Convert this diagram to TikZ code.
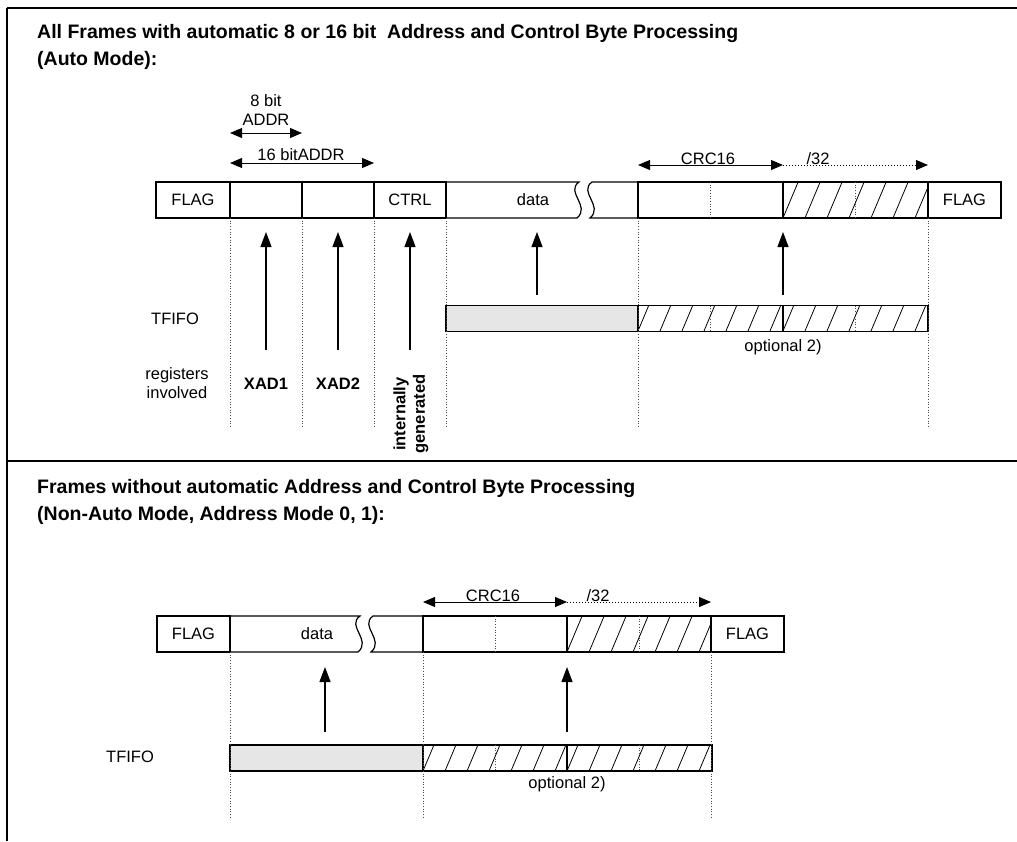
\documentclass[tikz,border=0pt]{standalone}
\usepackage{fontspec}
\setmainfont{Liberation Sans}
\usetikzlibrary{arrows.meta,positioning,calc}
\definecolor{fifogray}{RGB}{230,230,230}
\newcommand{\hatchbox}[4]{% corners (#1,#2) and (#3,#4)
  \begin{scope}
    \clip (#1,#2) rectangle (#3,#4);
    \foreach \hx in {0,22,...,220}
      \draw[line width=0.8pt] (#1-44+\hx,#4) -- ({#1-44+\hx+0.42*(#4-#2)},#2);
  \end{scope}}

\begin{document}
\begin{tikzpicture}[
  x=1pt, y=-1pt,
  font=\fontsize{16.5}{19.5}\selectfont,
  ttl/.style={anchor=west, inner sep=0pt, font=\fontsize{19.5}{23}\selectfont\bfseries},
  reg/.style={font=\fontsize{16.5}{19.5}\selectfont\bfseries},
  cell/.style={draw, line width=1.2pt, minimum height=36pt, inner sep=0pt, outer sep=0pt},
  fifo/.style={draw, line width=1.3pt, minimum height=26pt, inner sep=0pt, outer sep=0pt},
  edge/.style={line width=1.2pt},
  rule/.style={line width=1.8pt},
  guide/.style={dotted, line width=0.7pt, black!70},
  up/.style={-{Triangle[length=15pt,width=11pt]}, line width=1.2pt},
  dim/.style={{Triangle[length=12pt,width=10pt]}-{Triangle[length=12pt,width=10pt]}, line width=1pt},
  dotdim/.style={-{Triangle[length=12pt,width=10pt]}, dotted, line width=1pt}
]
\useasboundingbox (0,0) rectangle (1017,841);

% outer frame
\draw[rule] (7,8) -- (1017,8);
\draw[rule] (7,8) -- (7,841);
\draw[rule] (7,461) -- (1017,461);

% ---- auto mode ----
\node[ttl] (t1) at (37,33) {All Frames with automatic 8 or 16 bit~ Address and Control Byte Processing};
\node[ttl] (t2) at (37,60) {(Auto Mode):};

\hatchbox{783}{182}{928}{218}
\node[cell, minimum width=74pt, anchor=west] (flagA) at (156,200) {FLAG};
\node[cell, minimum width=72pt, right=0pt of flagA] (adrA) {};
\node[cell, minimum width=72pt, right=0pt of adrA] (adrB) {};
\node[cell, minimum width=72pt, right=0pt of adrB] (ctrl) {CTRL};
\node[cell, minimum width=145pt, anchor=west] (crcA) at (638,200) {};
\node[cell, minimum width=145pt, right=0pt of crcA] (crcB) {};
\node[cell, minimum width=73pt, right=0pt of crcB] (flagB) {FLAG};
\node (data) at (533,200) {data};
\draw[edge] (ctrl.north east) -- (579,182) .. controls (565,192) and (591,206) .. (577,218) -- (ctrl.south east);
\draw[edge] (crcA.north west) -- (592,182) .. controls (578,192) and (604,206) .. (590,218) -- (crcA.south west);
\draw[guide] (crcA.north) -- (crcA.south);
\draw[guide] (crcB.north) -- (crcB.south);

% address and crc spans
\draw[dim] ($(adrA.north west)+(0,-49)$) -- ($(adrA.north east)+(0,-49)$);
\draw[dim] ($(adrA.north west)+(0,-19)$) -- ($(adrB.north east)+(0,-19)$);
\node[align=center] (addr8) at (266,110) {8 bit\\ADDR};
\node[anchor=base] (addr16) at (301,160) {16 bitADDR};
\draw[dim] ($(crcA.north west)+(0,-17)$) -- ($(crcA.north east)+(0,-17)$);
\draw[dotdim] ($(crcB.north west)+(0,-17)$) -- ($(crcB.north east)+(0,-17)$);
\node[anchor=base] (crc16) at (708,164) {CRC16};
\node[anchor=base] (crc32) at (818,164) {/32};

% transmit fifo
\hatchbox{638}{306}{783}{331}
\hatchbox{783}{306}{928}{331}
\node[fifo, fill=fifogray, minimum width=192pt, anchor=west] (fifoD) at (446,318.5) {};
\node[fifo, minimum width=145pt, right=0pt of fifoD] (fifoC1) {};
\node[fifo, minimum width=145pt, right=0pt of fifoC1] (fifoC2) {};
\draw[guide] (fifoC1.north) -- (fifoC1.south);
\draw[guide] (fifoC2.north) -- (fifoC2.south);

\foreach \n in {flagA.south east, adrA.south east, adrB.south east, ctrl.south east, crcA.south west, crcB.south east}
  \draw[guide] (\n) -- (\n |- 0,428);

\coordinate (xad1foot) at (266,350);
\coordinate (xad2foot) at (338,350);
\coordinate (ctrlfoot) at (410,350);
\coordinate (datafoot) at (537,295);
\coordinate (crcfoot) at (783,295);
\draw[up, shorten >=14pt] (xad1foot) -- (adrA.south);
\draw[up, shorten >=14pt] (xad2foot) -- (adrB.south);
\draw[up, shorten >=14pt] (ctrlfoot) -- (ctrl.south);
\draw[up, shorten >=14pt] (datafoot) -- (datafoot |- flagA.south);
\draw[up, shorten >=14pt] (crcfoot) -- (crcB.south west);

\node (tfifoA) at (175,319) {TFIFO};
\node[align=center] (regs) at (177,383) {registers\\involved};
\node[reg] (xad1) at (266,384) {XAD1};
\node[reg] (xad2) at (338,384) {XAD2};
\node[reg, rotate=90, align=center, inner sep=0pt] (intgen) at (411,414) {internally\\generated};
\node (optA) at (783,347) {optional 2)};

% ---- non-auto mode ----
\node[ttl] (t3) at (37,488) {Frames without automatic Address and Control Byte Processing};
\node[ttl] (t4) at (37,515) {(Non-Auto Mode, Address Mode 0, 1):};

\hatchbox{567}{616}{711}{652}
\node[cell, minimum width=73pt, anchor=west] (flagC) at (157,634) {FLAG};
\node[cell, minimum width=144pt, anchor=west] (crcC) at (423,634) {};
\node[cell, minimum width=144pt, right=0pt of crcC] (crcD) {};
\node[cell, minimum width=73pt, right=0pt of crcD] (flagD) {FLAG};
\node (data2) at (317,634) {data};
\draw[edge] (flagC.north east) -- (360,616) .. controls (346,626) and (372,640) .. (358,652) -- (flagC.south east);
\draw[edge] (crcC.north west) -- (373,616) .. controls (359,626) and (385,640) .. (371,652) -- (crcC.south west);
\draw[guide] (crcC.north) -- (crcC.south);
\draw[guide] (crcD.north) -- (crcD.south);

\draw[dim] ($(crcC.north west)+(0,-14)$) -- ($(crcC.north east)+(0,-14)$);
\draw[dotdim] ($(crcD.north west)+(0,-14)$) -- ($(crcD.north east)+(0,-14)$);
\node[anchor=base] (crc16b) at (493,601) {CRC16};
\node[anchor=base] (crc32b) at (598,601) {/32};

\hatchbox{423}{745}{567}{771}
\hatchbox{567}{745}{712}{771}
\node[fifo, fill=fifogray, minimum width=193pt, anchor=west] (fifoE) at (230,758) {};
\node[fifo, minimum width=144pt, right=0pt of fifoE] (fifoF) {};
\node[fifo, minimum width=145pt, right=0pt of fifoF] (fifoG) {};
\draw[guide] (fifoF.north) -- (fifoF.south);
\draw[guide] (fifoG.north) -- (fifoG.south);

\foreach \n in {flagC.south east, crcC.south west, crcD.south east}
  \draw[guide] (\n) -- (\n |- 0,817);

\coordinate (data2foot) at (325,732);
\coordinate (crc2foot) at (567,732);
\draw[up, shorten >=15pt] (data2foot) -- (data2foot |- flagC.south);
\draw[up, shorten >=15pt] (crc2foot) -- (crcD.south west);

\node (tfifoB) at (130,757) {TFIFO};
\node (optB) at (567,784) {optional 2)};
\end{tikzpicture}
\end{document}
